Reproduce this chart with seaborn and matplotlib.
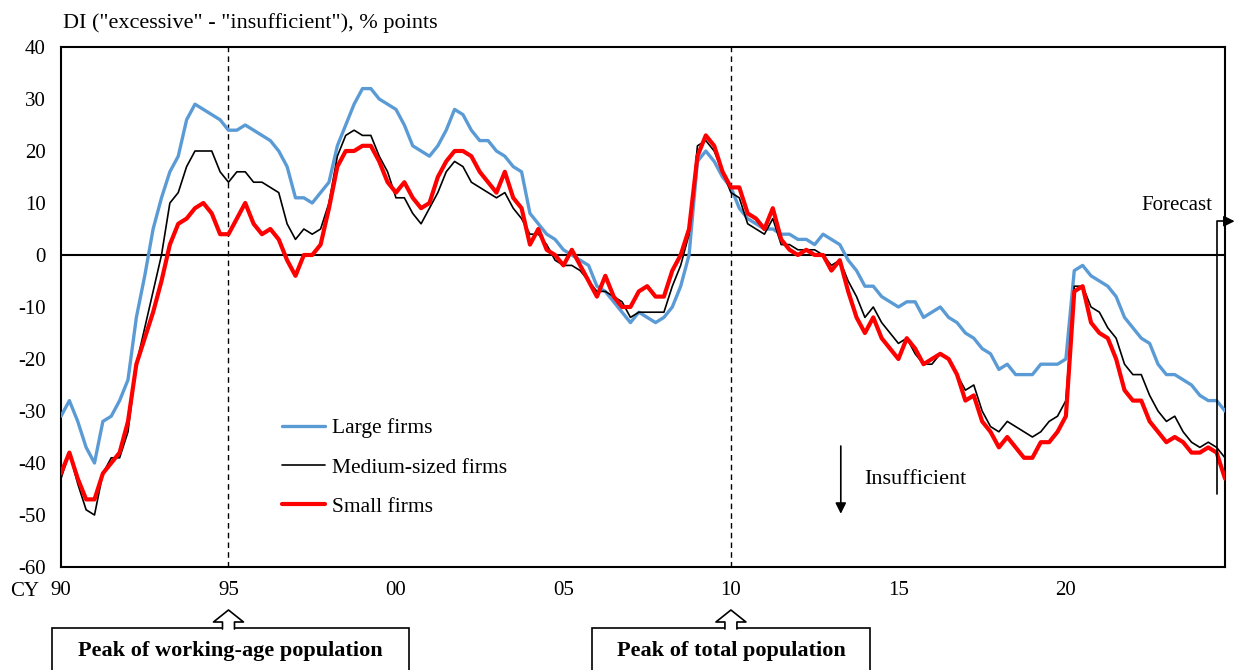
import matplotlib
matplotlib.use('Agg')
import numpy as np
import pandas as pd
import seaborn as sns
import matplotlib.pyplot as plt
from matplotlib.patches import Polygon, Rectangle
from matplotlib.lines import Line2D

# Quarterly DI, 1990 Q1 - 2024 Q4 (last quarter = forecast)
large_firms = [
    -31, -28, -32, -37, -40, -32, -31, -28, -24, -12,
    -4, 5, 11, 16, 19, 26, 29, 28, 27, 26,
    24, 24, 25, 24, 23, 22, 20, 17, 11, 11,
    10, 12, 14, 21, 25, 29, 32, 32, 30, 29,
    28, 25, 21, 20, 19, 21, 24, 28, 27, 24,
    22, 22, 20, 19, 17, 16, 8, 6, 4, 3,
    1, 0, -1, -2, -6, -7, -9, -11, -13, -11,
    -12, -13, -12, -10, -6, 0, 18, 20, 18, 15,
    13, 9, 7, 6, 5, 5, 4, 4, 3, 3,
    2, 4, 3, 2, -1, -3, -6, -6, -8, -9,
    -10, -9, -9, -12, -11, -10, -12, -13, -15, -16,
    -18, -19, -22, -21, -23, -23, -23, -21, -21, -21,
    -20, -3, -2, -4, -5, -6, -8, -12, -14, -16,
    -17, -21, -23, -23, -24, -25, -27, -28, -28, -30,
]
medium_firms = [
    -43, -38, -44, -49, -50, -42, -39, -39, -34, -21,
    -14, -7, 0, 10, 12, 17, 20, 20, 20, 16,
    14, 16, 16, 14, 14, 13, 12, 6, 3, 5,
    4, 5, 10, 19, 23, 24, 23, 23, 19, 16,
    11, 11, 8, 6, 9, 12, 16, 18, 17, 14,
    13, 12, 11, 12, 9, 7, 4, 4, 2, -1,
    -2, -2, -3, -5, -7, -7, -8, -9, -12, -11,
    -11, -11, -11, -6, -2, 4, 21, 22, 20, 16,
    12, 11, 6, 5, 4, 7, 2, 2, 1, 1,
    1, 0, -2, -1, -5, -8, -12, -10, -13, -15,
    -17, -16, -19, -21, -21, -19, -20, -23, -26, -25,
    -30, -33, -34, -32, -33, -34, -35, -34, -32, -31,
    -28, -6, -6, -10, -11, -14, -16, -21, -23, -23,
    -27, -30, -32, -31, -34, -36, -37, -36, -37, -39,
]
small_firms = [
    -42, -38, -43, -47, -47, -42, -40, -38, -32, -21,
    -16, -11, -5, 2, 6, 7, 9, 10, 8, 4,
    4, 7, 10, 6, 4, 5, 3, -1, -4, 0,
    0, 2, 9, 17, 20, 20, 21, 21, 18, 14,
    12, 14, 11, 9, 10, 15, 18, 20, 20, 19,
    16, 14, 12, 16, 11, 9, 2, 5, 1, 0,
    -2, 1, -2, -5, -8, -4, -8, -10, -10, -7,
    -6, -8, -8, -3, 0, 5, 19, 23, 21, 16,
    13, 13, 8, 7, 5, 9, 3, 1, 0, 1,
    0, 0, -3, -1, -7, -12, -15, -12, -16, -18,
    -20, -16, -18, -21, -20, -19, -20, -23, -28, -27,
    -32, -34, -37, -35, -37, -39, -39, -36, -36, -34,
    -31, -7, -6, -13, -15, -16, -20, -26, -28, -28,
    -32, -34, -36, -35, -36, -38, -38, -37, -38, -43,
]

series_names = ['Large firms', 'Medium-sized firms', 'Small firms']
series_colors = ['#5B9BD5', '#000000', '#FF0000']
series_widths = [2.4, 1.2, 3.0]

year_labels = ['90', '95', '00', '05', '10', '15', '20']
label_years = [1990, 1995, 2000, 2005, 2010, 2015, 2020]
peak_years = [1995, 2010]
peak_texts = ['Peak of working-age population', 'Peak of total population']

W, H = 1236, 670


def fx(x):
    return x / W


def fy(y):
    return 1 - y / H


quarter_pos = 1990 + np.arange(len(large_firms)) / 4

df = pd.DataFrame({
    'period': np.tile(quarter_pos, 3),
    'value': large_firms + medium_firms + small_firms,
    'series': np.repeat(series_names, len(large_firms)),
})

sns.set_style('white')
plt.rcParams['font.family'] = ['Liberation Serif', 'DejaVu Serif']
plt.rcParams['axes.unicode_minus'] = False
for key in ['text.color', 'axes.labelcolor', 'xtick.color', 'ytick.color']:
    plt.rcParams[key] = 'black'

fig = plt.figure(figsize=(W / 100, H / 100), dpi=100)
ax = fig.add_axes([fx(61), fy(567), fx(1225 - 61), (567 - 47) / H])

for name, color, lw in zip(series_names, series_colors, series_widths):
    sns.lineplot(data=df[df['series'] == name], x='period', y='value',
                 color=color, linewidth=lw, label=name, ax=ax, zorder=3)

ax.axhline(0, color='black', linewidth=1.5, zorder=2)
for yr in peak_years:
    ax.axvline(yr, color='black', linewidth=1.0, linestyle=(0, (4, 3)), zorder=1)

ax.set_xlim(1990, 2024.75)
ax.set_ylim(-60, 40)
ax.set_yticks(range(-60, 41, 10))
ax.set_xticks(range(1990, 2025))
ax.set_xticklabels([year_labels[label_years.index(y)] if y in label_years else ''
                    for y in range(1990, 2025)])
ax.tick_params(axis='y', direction='out', length=6, width=1.3, labelsize=15, pad=5)
ax.tick_params(axis='x', direction='in', length=7, width=1.0, labelsize=15, pad=10)
ax.set_xlabel('')
ax.set_ylabel('')
for sp in ax.spines.values():
    sp.set_color('black')
    sp.set_linewidth(1.5)

ax.legend(loc='upper left', bbox_to_anchor=((282 - 61) / 1164, (567 - 418) / 520),
          frameon=False, fontsize=15.5, handlelength=2.0, handletextpad=0.3,
          labelspacing=0.9, borderpad=0, borderaxespad=0)

# Insufficient arrow
ax.annotate('', xy=(2013.28, -50.3), xytext=(2013.28, -36.2),
            arrowprops=dict(arrowstyle='-|>', color='black', lw=1.2, mutation_scale=16))
ax.text(2013.97, -43.1, 'Insufficient', fontsize=16, ha='left', va='center')

# Forecast bracket
ax.plot([2024.5, 2024.5, 2024.75], [-46, 6.5, 6.5], color='black', linewidth=1.2,
        clip_on=False, zorder=4)
ax.annotate('', xy=(2025.12, 6.5), xytext=(2024.7, 6.5), annotation_clip=False,
            arrowprops=dict(arrowstyle='-|>', color='black', lw=1.2, mutation_scale=16))
ax.text(2024.36, 9.6, 'Forecast', fontsize=15, ha='right', va='center')

fig.text(fx(63), fy(23), 'DI ("excessive" - "insufficient"), % points',
         fontsize=16, ha='left', va='center')
fig.text(fx(25), fy(592), 'CY', fontsize=15, ha='center', va='center')

# Peak boxes with hollow block arrows
box_spans = [(52, 409), (592, 870)]
for (x0, x1), text, yr in zip(box_spans, peak_texts, peak_years):
    fig.patches.append(Rectangle((fx(x0), fy(672)), fx(x1 - x0), (672 - 628) / H,
                                 transform=fig.transFigure, facecolor='white',
                                 edgecolor='black', linewidth=1.2, zorder=1))
    cx = 61 + (yr - 1990) * 1164 / 34.75
    pts = [(cx - 6, 629), (cx - 6, 622), (cx - 15, 622), (cx, 610),
           (cx + 15, 622), (cx + 6, 622), (cx + 6, 629)]
    fig.patches.append(Polygon([(fx(a), fy(b)) for a, b in pts], closed=True,
                               transform=fig.transFigure, facecolor='white',
                               edgecolor='none', zorder=2))
    fig.lines.append(Line2D([fx(a) for a, b in pts], [fy(b) for a, b in pts],
                            transform=fig.transFigure, color='black', linewidth=1.2,
                            zorder=3))
    fig.text(fx((x0 + x1) / 2), fy(651), text, fontsize=16, fontweight='bold',
             ha='center', va='center', zorder=4)

fig.savefig('out.png', dpi=100)
